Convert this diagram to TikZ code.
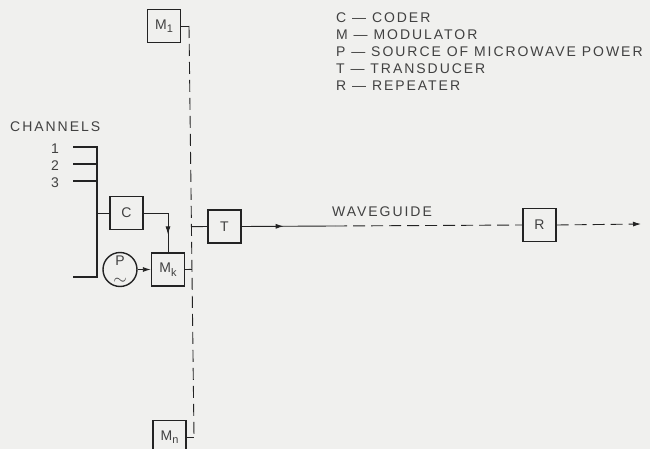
\documentclass[tikz,border=0pt]{standalone}
\usepackage{fontspec}
\setmainfont{Liberation Sans}[LetterSpace=14]
\usetikzlibrary{arrows.meta,decorations.markings,calc}
\definecolor{bg}{RGB}{240,240,238}
\definecolor{ink}{RGB}{35,35,35}
\definecolor{txt}{RGB}{65,65,65}
\newcommand\labfont{\fontsize{14}{16}\selectfont}
\newcommand\subs[1]{\raisebox{-3.5pt}{\fontsize{11}{12}\selectfont #1}}
\tikzset{
  wire/.style={color=ink, line width=0.9pt},
  wireb/.style={color=ink, line width=1.5pt},
  dashpat/.style={dash pattern=on 12pt off 6pt},
  blk/.style={draw=ink, line width=1.4pt, minimum width=33pt, minimum height=33pt,
    inner sep=0pt, text=txt, font=\labfont},
  lab/.style={text=txt, font=\labfont, inner sep=0pt, text height=10pt, text depth=0pt},
  tip/.style={-{Latex[length=8pt,width=5pt]}},
  midarrow/.style={postaction={decorate}, decoration={markings,
    mark=at position #1 with {\arrow{Latex[length=8pt,width=5pt]}}}}
}
\begin{document}
\begin{tikzpicture}[x=1pt,y=-1pt]
\fill[bg] (0,0) rectangle (650,449);
\useasboundingbox (0,0) rectangle (650,449);

% blocks
\node[blk] (M1) at (164,26) {M\subs{1}};
\node[blk] (Mn) at (169.5,437) {M\subs{n}};
\node[blk] (C) at (126.5,213) {C};
\node[circle, draw=ink, line width=1.4pt, minimum size=34pt, inner sep=0pt,
  text=txt, font=\labfont, align=center] (P) at (120,269.5)
  {\raisebox{0pt}[10pt][0pt]{P}\\[3pt]\raisebox{0pt}[5pt][0pt]{\fontsize{16}{16}\selectfont$\sim$}};
\node[blk] (Mk) at (168,269.5) {M\subs{k}};
\node[blk] (T) at (224.5,226.5) {T};
\node[blk] (R) at (539.5,225) {R};

% bus of modulators
\coordinate (busTop) at (189,26);
\coordinate (busBot) at (194,437);
\draw[wire] (M1.east) -- (busTop);
\draw[wire, dashpat] (busTop) -- (busBot);
\draw[wire] (Mn.east) -- (busBot);
\draw[wire] (Mk.east) -- ($(busTop)!(Mk.east)!(busBot)$);
\draw[wire] ($(busTop)!(T.west)!(busBot)$) -- (T.west);

% channels
\coordinate (ch1) at (73,147);
\coordinate (ch2) at (73,164);
\coordinate (ch3) at (73,181);
\coordinate (ch4) at (73,277);
\coordinate (cbTop) at (97,147);
\coordinate (cbBot) at (97,277);
\draw[wireb] (ch1) -- (cbTop) -- (cbBot) -- (ch4);
\draw[wireb] (ch2) -- (ch2 -| cbTop);
\draw[wireb] (ch3) -- (ch3 -| cbTop);
\draw[wire] (C.west -| cbTop) -- (C.west);
\draw[wire, midarrow=0.72] (C.east) -| (Mk.north);
\draw[wire, tip] (P.east) -- (Mk.west);

% waveguide
\coordinate (wgA) at (335,226);
\coordinate (wgEnd) at (641,224);
\draw[wire, midarrow=0.45] (T.east) -- (wgA);
\draw[wire, dashpat] (wgA) -- (R.west);
\draw[wire, dashpat, tip] (R.east) -- (wgEnd);

% labels
\node[lab, anchor=west] (chan) at (10,127) {CHANNELS};
\node[lab] (n1) at (55,149) {1};
\node[lab] (n2) at (55,166) {2};
\node[lab] (n3) at (55,182) {3};
\node[lab, anchor=west] (wg) at (332,211) {WAVEGUIDE};

\node[lab, anchor=west] (lc) at (336,18) {C — CODER};
\node[lab, anchor=west] (lm) at (336,35) {M — MODULATOR};
\node[lab, anchor=west] (lp) at (336,52) {P — SOURCE OF MICROWAVE POWER};
\node[lab, anchor=west] (lt) at (336,69) {T — TRANSDUCER};
\node[lab, anchor=west] (lr) at (336,86) {R — REPEATER};
\end{tikzpicture}
\end{document}
